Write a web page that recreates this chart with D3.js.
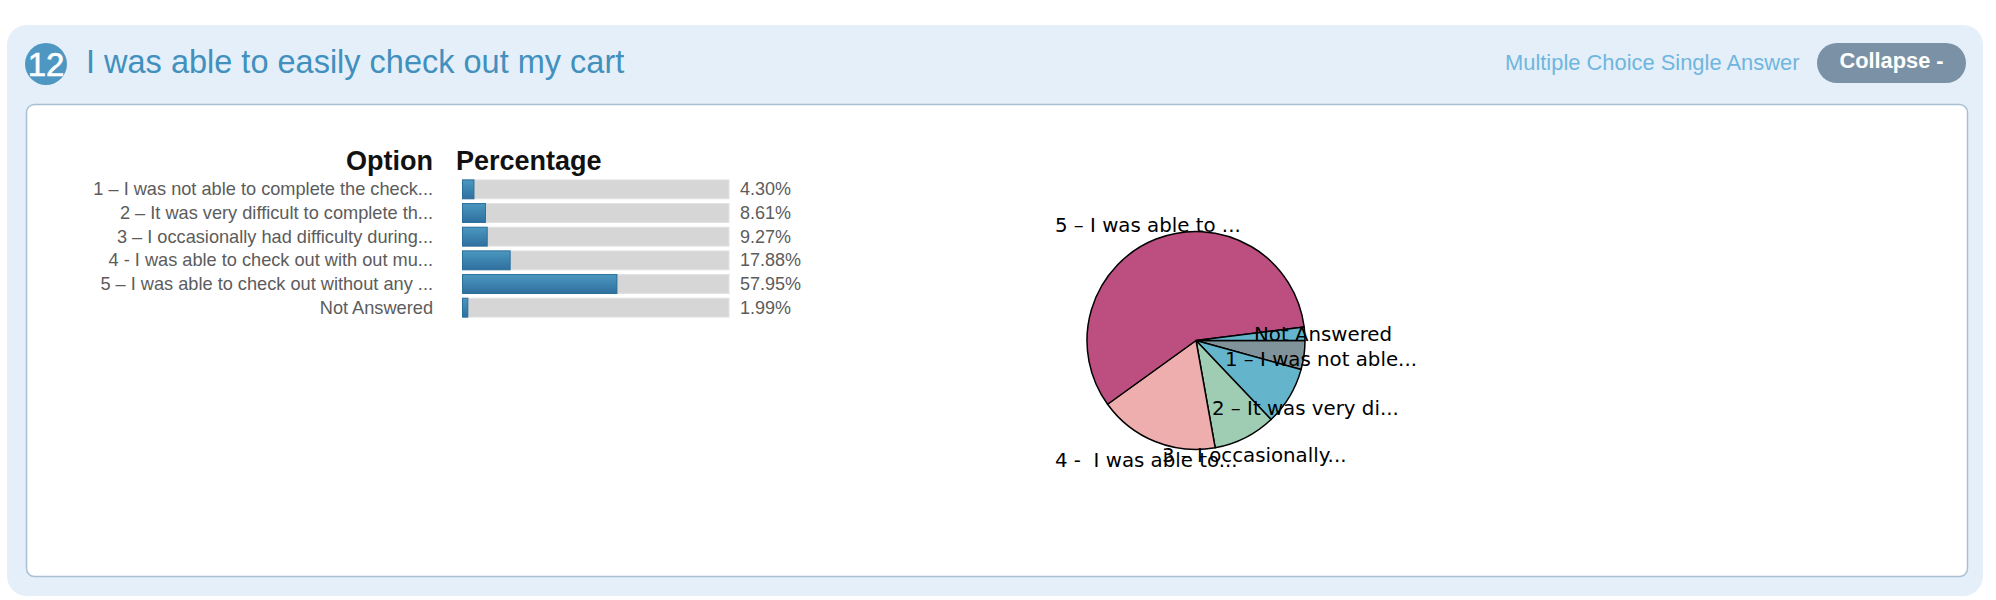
<!DOCTYPE html>
<html>
<head>
<meta charset="utf-8">
<script src="https://cdn.jsdelivr.net/npm/d3@7"></script>
<style>
html, body { margin: 0; padding: 0; background: #fff; }
svg { display: block; }
text { font-family: "Liberation Sans", Arial, sans-serif; white-space: pre; }
.pieLabel { font-family: "DejaVu Sans", sans-serif; font-size: 19.8px; fill: #000; }
</style>
</head>
<body>
<div id="chart"></div>
<script>
var questionNo = "12";
var questionTitle = "I was able to easily check out my cart";
var questionType = "Multiple Choice Single Answer";
var buttonLabel = "Collapse -";

var options = ["1 – I was not able to complete the check...",
  "2 – It was very difficult to complete th...",
  "3 – I occasionally had difficulty during...",
  "4 - I was able to check out with out mu...",
  "5 – I was able to check out without any ...",
  "Not Answered"];
var percentages = [4.30, 8.61, 9.27, 17.88, 57.95, 1.99];
var pieNames = ["1 – I was not able...", "2 – It was very di...", "3 – I occasionally...",
  "4 -  I was able to...", "5 – I was able to ...", "Not Answered"];
var pieColors = ["#80939a", "#64b5cc", "#9ecdb3", "#eeaeae", "#bc4f80", "#64b5cc"];

var svg = d3.select("#chart").append("svg").attr("width", 1996).attr("height", 600);

var grad = svg.append("defs").append("linearGradient")
  .attr("id", "barFill").attr("x1", 0).attr("x2", 0).attr("y1", 0).attr("y2", 1);
grad.append("stop").attr("offset", "0%").attr("stop-color", "#4b98c0");
grad.append("stop").attr("offset", "100%").attr("stop-color", "#2f6f9f");

// panel
svg.append("rect").attr("x", 7).attr("y", 25).attr("width", 1976).attr("height", 571)
  .attr("rx", 20).attr("fill", "#e5eff9");
svg.append("rect").attr("x", 26.5).attr("y", 104.5).attr("width", 1941).attr("height", 472)
  .attr("rx", 8).attr("fill", "#fff").attr("stroke", "#a9bfd2").attr("stroke-width", 1.5);

// header
svg.append("circle").attr("cx", 46).attr("cy", 64).attr("r", 21).attr("fill", "#4f97c3");
svg.append("text").attr("x", 46).attr("y", 76).attr("text-anchor", "middle")
  .attr("font-size", 33).attr("fill", "#fff").attr("stroke", "#fff").attr("stroke-width", 0.6).text(questionNo);
svg.append("text").attr("x", 86).attr("y", 73).attr("font-size", 32.5)
  .attr("fill", "#4190bd").text(questionTitle);
svg.append("text").attr("x", 1505).attr("y", 70).attr("font-size", 21.9)
  .attr("fill", "#6fb6de").text(questionType);
svg.append("rect").attr("x", 1817).attr("y", 43).attr("width", 149).attr("height", 40)
  .attr("rx", 20).attr("fill", "#7b92a6");
svg.append("text").attr("x", 1891.5).attr("y", 68).attr("text-anchor", "middle")
  .attr("font-size", 21.8).attr("font-weight", "bold").attr("fill", "#fff").text(buttonLabel);

// table of bars
var x = d3.scaleLinear().domain([0, 100]).range([462.5, 729]);
var y = d3.scaleBand().domain(options).range([177.5, 319.5]).paddingInner(0.16).paddingOuter(0.08);

svg.append("text").attr("x", 433).attr("y", 170).attr("text-anchor", "end")
  .attr("font-size", 27).attr("font-weight", "bold").attr("fill", "#111").text("Option");
svg.append("text").attr("x", 456).attr("y", 170)
  .attr("font-size", 27).attr("font-weight", "bold").attr("fill", "#111").text("Percentage");

var rows = svg.selectAll(".row").data(options).enter().append("g").attr("class", "row");

rows.append("text").attr("x", 433).attr("y", function (d) { return y(d) + y.bandwidth() / 2 + 6; })
  .attr("text-anchor", "end").attr("font-size", 18.2).attr("fill", "#5c5c5c").text(function (d) { return d; });
rows.append("rect").attr("x", x(0)).attr("y", function (d) { return y(d) + 0.5; })
  .attr("width", x(100) - x(0)).attr("height", y.bandwidth() - 1).attr("fill", "#d6d6d6")
  .attr("stroke", "#e2e2e2").attr("stroke-width", 1);
rows.append("rect").attr("x", x(0)).attr("y", function (d) { return y(d) + 0.5; })
  .attr("width", function (d, i) { return x(percentages[i]) - x(0); })
  .attr("height", y.bandwidth() - 1).attr("fill", "url(#barFill)")
  .attr("stroke", "#2a6f9c").attr("stroke-width", 1);
rows.append("text").attr("x", 740).attr("y", function (d) { return y(d) + y.bandwidth() / 2 + 6; })
  .attr("font-size", 18).attr("fill", "#5c5c5c")
  .text(function (d, i) { return percentages[i].toFixed(2) + "%"; });

// pie, clockwise from 3 o'clock like the original
var radius = 109;
var pie = d3.pie().sort(null).startAngle(Math.PI / 2).endAngle(Math.PI * 2.5);
var arc = d3.arc().innerRadius(0).outerRadius(radius);
var pieG = svg.append("g").attr("transform", "translate(1196,340.5)");

pieG.selectAll("path").data(pie(percentages)).enter().append("path")
  .attr("d", arc)
  .attr("fill", function (d, i) { return pieColors[i]; })
  .attr("stroke", "#000").attr("stroke-width", 1.5).attr("stroke-linejoin", "round");

// label spots are fixed by hand, the original library lets them overlap
var labelSpots = [[29, 25], [16, 74], [-34, 121], [-141, 126], [-141, -109], [58, 0]];
pieG.selectAll("text").data(pieNames).enter().append("text")
  .attr("class", "pieLabel")
  .attr("x", function (d, i) { return labelSpots[i][0]; })
  .attr("y", function (d, i) { return labelSpots[i][1]; })
  .text(function (d) { return d; });
</script>
</body>
</html>
